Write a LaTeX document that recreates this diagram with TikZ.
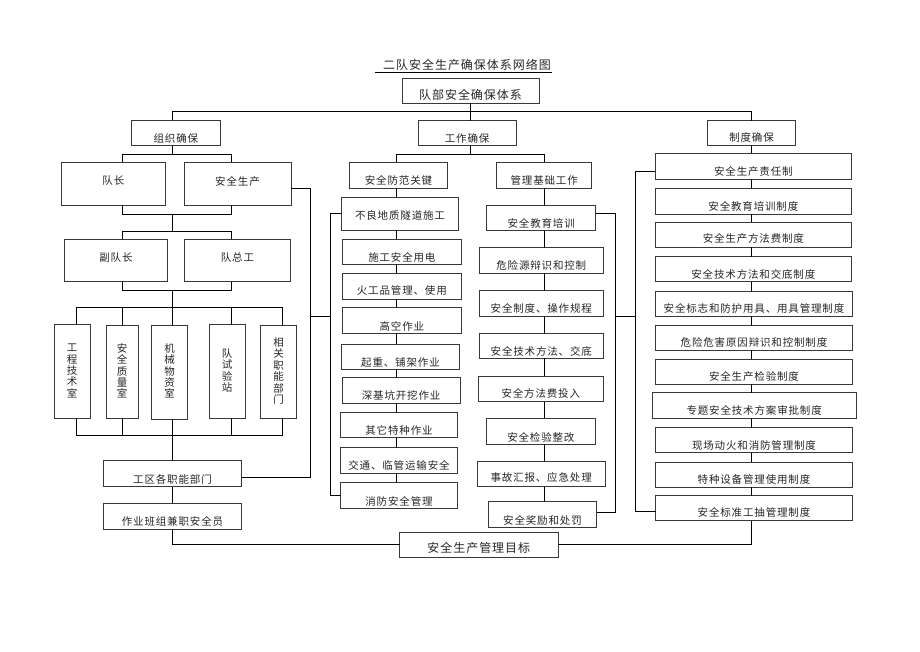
\documentclass[tikz,border=0pt]{standalone}
\usepackage{fontspec}
\newfontfamily\cjk[LetterSpace=8]{Noto Sans CJK SC}
\tikzset{
  box/.style={draw=black!78, line width=0.9pt, fill=white, inner sep=0pt, outer sep=0pt},
  txt/.style={font={\cjk\fontsize{10.5}{11.4}\selectfont}, text=black!85, inner sep=0pt, align=center},
  big/.style={font={\cjk\fontsize{12}{14}\selectfont}},
  conn/.style={draw=black, line width=0.8pt},
}
\newcommand\mybox[8][]{%
  \node[box, minimum width={#5-#3}, minimum height={#6-#4}] (#2) at ({(#3+#5)/2},{(#4+#6)/2}) {};
  \node[txt,#1] (#2-t) at ({(#3+#5)/2},#7) {#8};
}
\begin{document}
\begin{tikzpicture}[x=1pt,y=-1pt]
\useasboundingbox (0,0) rectangle (920,651);
\fill[white] (0,0) rectangle (920,651);

% title
\node[txt,big] (title) at (467,65) {二队安全生产确保体系网络图};
\draw[line width=0.7pt] ([shift={(-92,7)}]title.center) -- ([shift={(85,7)}]title.center);

% top level
\mybox[big]{top}{402}{78}{539}{103}{95}{队部安全确保体系}
\mybox{zuzhi}{131.7}{120}{220}{145.7}{138.3}{组织确保}
\mybox{gongzuo}{418.3}{120.7}{516}{145.7}{138.3}{工作确保}
\mybox{zhidu}{707.3}{120.7}{795.7}{145}{137.3}{制度确保}

% left organisation
\mybox{dz}{61.7}{162}{165}{205}{181}{队长}
\mybox{aqsc}{184}{162}{291}{205}{181}{安全生产}
\mybox{fdz}{64.3}{239.3}{167.7}{281.7}{257.3}{副队长}
\mybox{dzg}{184.3}{239.3}{290.7}{281.7}{257.3}{队总工}
\mybox{v1}{54.3}{324.3}{90}{418.3}{371}{工\\程\\技\\术\\室}
\mybox{v2}{106}{325}{138.3}{418.3}{371}{安\\全\\质\\量\\室}
\mybox{v3}{151.7}{325.7}{187.3}{419}{371}{机\\械\\物\\资\\室}
\mybox{v4}{209.3}{324.7}{245}{418.3}{370.5}{队\\试\\验\\站}
\mybox{v5}{260.7}{325}{296.7}{418.3}{371}{相\\关\\职\\能\\部\\门}
\mybox{gq}{103.3}{460.7}{241.7}{486.7}{479}{工区各职能部门}
\mybox{zy}{103.3}{503.3}{241.7}{529.3}{521.7}{作业班组兼职安全员}
\mybox[big]{mb}{399.6}{532}{558}{557.3}{548.3}{安全生产管理目标}

% work column A
\mybox{af}{349.3}{162.3}{447.7}{188.3}{180.7}{安全防范关键}
\mybox{a1}{341.7}{197}{458.3}{230}{215.7}{不良地质隧道施工}
\mybox{a2}{342.7}{239.3}{461}{264.3}{257.3}{施工安全用电}
\mybox{a3}{342.7}{273.3}{461}{299}{290.7}{火工品管理、使用}
\mybox{a4}{342.7}{307.3}{461}{333.3}{326}{高空作业}
\mybox{a5}{341.7}{344}{459.3}{369}{362.3}{起重、铺架作业}
\mybox{a6}{342.3}{377.7}{460}{403.3}{395}{深基坑开挖作业}
\mybox{a7}{340.7}{412.7}{457.3}{437.7}{430}{其它特种作业}
\mybox{a8}{340.7}{447.7}{457.3}{473.3}{465.7}{交通、临管运输安全}
\mybox{a9}{340.7}{482.7}{457.3}{508.3}{501}{消防安全管理}

% work column B
\mybox{gl}{496.7}{162.3}{591.7}{188.3}{180.7}{管理基础工作}
\mybox{b1}{486.7}{205}{595.7}{230.7}{223.3}{安全教育培训}
\mybox{b2}{479.3}{247.7}{603.3}{273.3}{265.7}{危险源辩识和控制}
\mybox{b3}{479.3}{290.7}{603.3}{316}{308.3}{安全制度、操作规程}
\mybox{b4}{479.3}{333.3}{603.3}{358.3}{351}{安全技术方法、交底}
\mybox{b5}{478.3}{376}{603.3}{401.7}{393.3}{安全方法费投入}
\mybox{b6}{486.7}{418.3}{595}{444}{437.3}{安全检验整改}
\mybox{b7}{477.3}{461}{605}{486.7}{477.7}{事故汇报、应急处理}
\mybox{b8}{488.3}{501.7}{596.7}{527.3}{520.7}{安全奖励和处罚}

% rules column
\mybox{z1}{655}{153.3}{851.7}{179.3}{171.7}{安全生产责任制}
\mybox{z2}{655}{188.3}{851.7}{214}{206.7}{安全教育培训制度}
\mybox{z3}{655}{222.3}{851.7}{247.3}{238.3}{安全生产方法费制度}
\mybox{z4}{655}{256.7}{851.7}{281.7}{274.3}{安全技术方法和交底制度}
\mybox{z5}{655.7}{291.7}{852.3}{316}{308.3}{安全标志和防护用具、用具管理制度}
\mybox{z6}{655.7}{325.7}{852.3}{350}{342.3}{危险危害原因辩识和控制制度}
\mybox{z7}{655.7}{359.3}{852.3}{384}{376.7}{安全生产检验制度}
\mybox{z8}{652.3}{392.7}{856}{418.3}{410}{专题安全技术方案审批制度}
\mybox{z9}{655.7}{427.7}{852.3}{452.7}{445}{现场动火和消防管理制度}
\mybox{z10}{655.7}{462.3}{852.3}{487.3}{479.3}{特种设备管理使用制度}
\mybox{z11}{655.7}{495.7}{852.3}{520.7}{512.3}{安全标准工抽管理制度}

% helper coordinates
\coordinate (xL) at (172,0);
\coordinate (xA) at (122.5,0);
\coordinate (xB) at (231.5,0);
\coordinate (x1) at (76,0);
\coordinate (x5) at (282.3,0);
\coordinate (xZ) at (751,0);
\coordinate (xWa) at (396.5,0);
\coordinate (xWb) at (544.3,0);
\coordinate (xJ1) at (310,0);
\coordinate (xJ2) at (330,0);
\coordinate (xJ3) at (615,0);
\coordinate (xJ4) at (635.5,0);
\coordinate (yT) at (0,111.7);
\coordinate (y1) at (0,154);
\coordinate (y2) at (0,214);
\coordinate (y3) at (0,231);
\coordinate (y4) at (0,290);
\coordinate (y5) at (0,307);
\coordinate (y6) at (0,435);
\coordinate (yW) at (0,154.3);
\coordinate (yR1) at (0,188);
\coordinate (yR2) at (0,477.3);
\coordinate (yJ) at (0,316);
\coordinate (yB1) at (0,213.3);
\coordinate (yB8) at (0,512.7);
\coordinate (yZ1) at (0,171);
\coordinate (yZ11) at (0,511.7);

% top connectors
\draw[conn] (top.south) -- (top.south |- gongzuo.north);
\draw[conn] (xL |- zuzhi.north) -- (xL |- yT) -| (zhidu.north);

% organisation tree
\draw[conn] (xL |- zuzhi.south) -- (xL |- y1);
\draw[conn] (xA |- dz.north) -- (xA |- y1) -- (xB |- y1) -- (xB |- aqsc.north);
\draw[conn] (xA |- dz.south) -- (xA |- y2) -- (xB |- y2) -- (xB |- aqsc.south);
\draw[conn] (xL |- y2) -- (xL |- y3);
\draw[conn] (xA |- fdz.north) -- (xA |- y3) -- (xB |- y3) -- (xB |- dzg.north);
\draw[conn] (xA |- fdz.south) -- (xA |- y4) -- (xB |- y4) -- (xB |- dzg.south);
\draw[conn] (xL |- y4) -- (xL |- v3.north);
\draw[conn] (x1 |- v1.north) -- (x1 |- y5) -- (x5 |- y5) -- (x5 |- v5.north);
\draw[conn] (xA |- v2.north) -- (xA |- y5);
\draw[conn] (xB |- v4.north) -- (xB |- y5);
\draw[conn] (x1 |- v1.south) -- (x1 |- y6) -- (x5 |- y6) -- (x5 |- v5.south);
\draw[conn] (xA |- v2.south) -- (xA |- y6);
\draw[conn] (xB |- v4.south) -- (xB |- y6);
\draw[conn] (xL |- v3.south) -- (xL |- gq.north);
\draw[conn] (xL |- gq.south) -- (xL |- zy.north);
\draw[conn] (xL |- zy.south) |- (mb.west);
\draw[conn] (mb.east) -| (xZ |- z11.south);

% link organisation -> work column A
\draw[conn] (aqsc.east |- yR1) -- (xJ1 |- yR1) -- (xJ1 |- yR2) -- (gq.east |- yR2);
\draw[conn] (xJ1 |- yJ) -- (xJ2 |- yJ);
\draw[conn] (a1.west) -- (xJ2 |- a1.west) -- (xJ2 |- a9.west) -- (a9.west);

% work columns
\draw[conn] (top.south |- gongzuo.south) -- (top.south |- yW);
\draw[conn] (xWa |- af.north) -- (xWa |- yW) -- (xWb |- yW) -- (xWb |- gl.north);
\foreach \p/\q in {af/a1,a1/a2,a2/a3,a3/a4,a4/a5,a5/a6,a6/a7,a7/a8,a8/a9}
  \draw[conn] (xWa |- \p.south) -- (xWa |- \q.north);
\foreach \p/\q in {gl/b1,b1/b2,b2/b3,b3/b4,b4/b5,b5/b6,b6/b7,b7/b8}
  \draw[conn] (xWb |- \p.south) -- (xWb |- \q.north);

% link work column B -> rules column
\draw[conn] (b1.east |- yB1) -- (xJ3 |- yB1) -- (xJ3 |- yB8) -- (b8.east |- yB8);
\draw[conn] (xJ3 |- yJ) -- (xJ4 |- yJ);
\draw[conn] (z1.west |- yZ1) -- (xJ4 |- yZ1) -- (xJ4 |- yZ11) -- (z11.west |- yZ11);

% rules column
\draw[conn] (xZ |- zhidu.south) -- (xZ |- z1.north);
\foreach \p/\q in {z1/z2,z2/z3,z3/z4,z4/z5,z5/z6,z6/z7,z7/z8,z8/z9,z9/z10,z10/z11}
  \draw[conn] (xZ |- \p.south) -- (xZ |- \q.north);
\end{tikzpicture}
\end{document}
